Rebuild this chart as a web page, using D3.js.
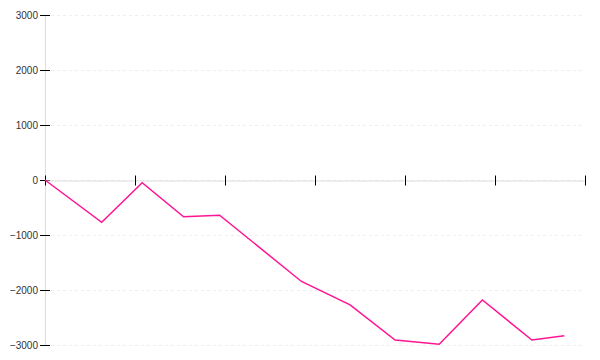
<!DOCTYPE html>
<html>
<head>
<meta charset="utf-8">
<script src="https://cdn.jsdelivr.net/npm/d3@7"></script>
<style>
    body { margin: 0; background: #fff; }
    .axis text { font: 10px Arial, "Liberation Sans", sans-serif; fill: #333; }
</style>
</head>
<body>
<div id="chart"></div>
<script>
// series (x in axis units, one tick per unit)
const xValues = [0, 0.63, 1.08, 1.54, 1.94, 2.85, 3.39, 3.89, 4.38, 4.86, 5.41, 5.77];
const yValues = [0, -770, -50, -670, -640, -1845, -2270, -2910, -2985, -2180, -2910, -2830];
const yTicks = [-3000, -2000, -1000, 0, 1000, 2000, 3000];
const xTicks = [0, 1, 2, 3, 4, 5, 6];

document.addEventListener('DOMContentLoaded', function () {
    drawChart();
});

function drawChart() {
    const width = 600;
    const height = 360;
    const margin = { top: 15, right: 15, bottom: 15, left: 45 };

    const svg = d3.select('#chart').append('svg').attr('width', width).attr('height', height);

    const x = d3.scaleLinear().domain([0, 6]).range([margin.left, width - margin.right]);
    const y = d3.scaleLinear().domain([-3000, 3000]).range([height - margin.bottom, margin.top]);

    // dashed grid lines
    svg.append('g')
        .selectAll('line')
        .data(yTicks)
        .enter()
        .append('line')
        .attr('x1', x(0))
        .attr('x2', x(5.98))
        .attr('y1', d => Math.round(y(d)) + 0.5)
        .attr('y2', d => Math.round(y(d)) + 0.5)
        .attr('stroke', '#eee')
        .attr('stroke-dasharray', '3,3');

    // y axis
    const yAxis = svg.append('g')
        .attr('class', 'axis')
        .attr('transform', `translate(${x(0)},0)`)
        .call(d3.axisLeft(y).tickValues(yTicks).tickSize(5).tickPadding(2).tickFormat(d3.format('d')));
    yAxis.select('.domain').attr('stroke', '#ddd');
    yAxis.selectAll('.tick line').attr('x1', 5).attr('stroke', '#000');

    // x axis through zero, no labels
    const xAxis = svg.append('g')
        .attr('class', 'axis')
        .attr('transform', `translate(0,${Math.round(y(0)) + 0.5})`)
        .call(d3.axisBottom(x).tickValues(xTicks).tickSize(5).tickFormat(''));
    xAxis.select('.domain').attr('stroke', '#ddd');
    xAxis.selectAll('.tick line').attr('y1', -5).attr('stroke', '#000');

    const line = d3.line()
        .x((d, i) => x(xValues[i]))
        .y(d => y(d));

    svg.append('path')
        .datum(yValues)
        .attr('fill', 'none')
        .attr('stroke', '#ff1493')
        .attr('stroke-width', 1.5)
        .attr('d', line);
}
</script>
</body>
</html>
